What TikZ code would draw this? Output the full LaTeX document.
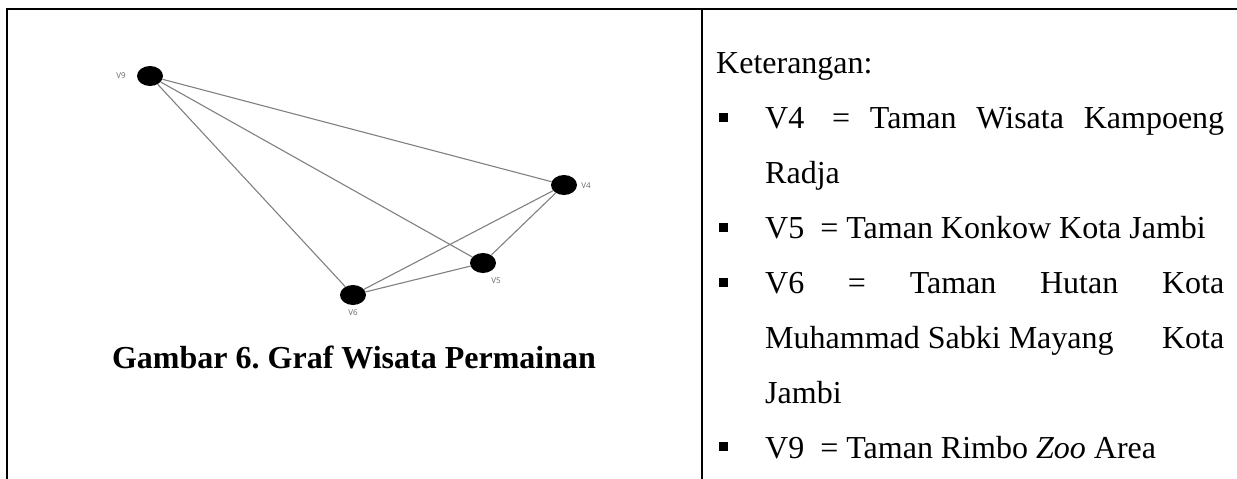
\documentclass[tikz,border=0pt]{standalone}
\usepackage{fontspec}
\setmainfont{Liberation Serif}
\setsansfont{Open Sans}
\usetikzlibrary{shapes.geometric}
\frenchspacing
\tikzset{
  vert/.style={ellipse, fill=black, draw=none, minimum width=26pt, minimum height=20pt, inner sep=0pt},
  vlabel/.style={font=\sffamily\fontsize{8}{9}\selectfont, text=black!60, inner sep=0pt},
  edge/.style={draw=black!50, line width=1.1pt},
  frame/.style={line width=2.2pt, line cap=rect},
  body/.style={font=\fontsize{32}{38}\selectfont, inner sep=0pt, anchor=base west},
  bul/.style={fill=black, minimum size=9pt, inner sep=0pt, draw=none},
}
\begin{document}
\begin{tikzpicture}[x=1pt, y=-1pt]
\useasboundingbox (0,0) rectangle (1237,479);
% frame
\coordinate (tl) at (7,9);
\coordinate (tr) at (1240,9);
\coordinate (bl) at (7,482);
\coordinate (mt) at (702,9);
\coordinate (mb) at (702,482);
\draw[frame] (bl) -- (tl) -- (tr);
\draw[frame] (mt) -- (mb);
% graph
\node[vert] (v9) at (150,76) {};
\node[vert] (v4) at (564,185) {};
\node[vert] (v5) at (483,263) {};
\node[vert] (v6) at (353,295) {};
\draw[edge] (v9) -- (v4);
\draw[edge] (v9) -- (v5);
\draw[edge] (v9) -- (v6);
\draw[edge] (v4) -- (v6);
\draw[edge] (v4) -- (v5);
\draw[edge] (v5) -- (v6);
\node[vlabel] (l9) at (121,76) {V9};
\node[vlabel] (l4) at (586,186) {V4};
\node[vlabel] (l5) at (496,281) {V5};
\node[vlabel] (l6) at (353,313) {V6};
% caption
\node[font=\bfseries\fontsize{32}{38}\selectfont, inner sep=0pt, anchor=base] (cap) at (354,368) {Gambar 6. Graf Wisata Permainan};
% legend
\node[body] (ket) at (716,73) {Keterangan:};
\node[bul] (b4) at (723,117) {};
\node[body] (t4) at (765,128) {\hbox to 459pt{V4\ \hfill=\hfill Taman\hfill Wisata\hfill Kampoeng}};
\node[body] (t4b) at (765,183) {Radja};
\node[bul] (b5) at (723,227) {};
\node[body] (t5) at (765,238) {V5\ \ = Taman Konkow Kota Jambi};
\node[bul] (b6) at (723,282) {};
\node[body] (t6) at (765,293) {\hbox to 459pt{V6\hfill=\hfill Taman\hfill Hutan\hfill Kota}};
\node[body] (t6b) at (765,348) {\hbox to 459pt{Muhammad Sabki Mayang\hfill Kota}};
\node[body] (t6c) at (765,403) {Jambi};
\node[bul] (b9) at (723,446) {};
\node[body] (t9) at (765,458) {V9\ \ = Taman Rimbo \textit{Zoo} Area};
\end{tikzpicture}
\end{document}
